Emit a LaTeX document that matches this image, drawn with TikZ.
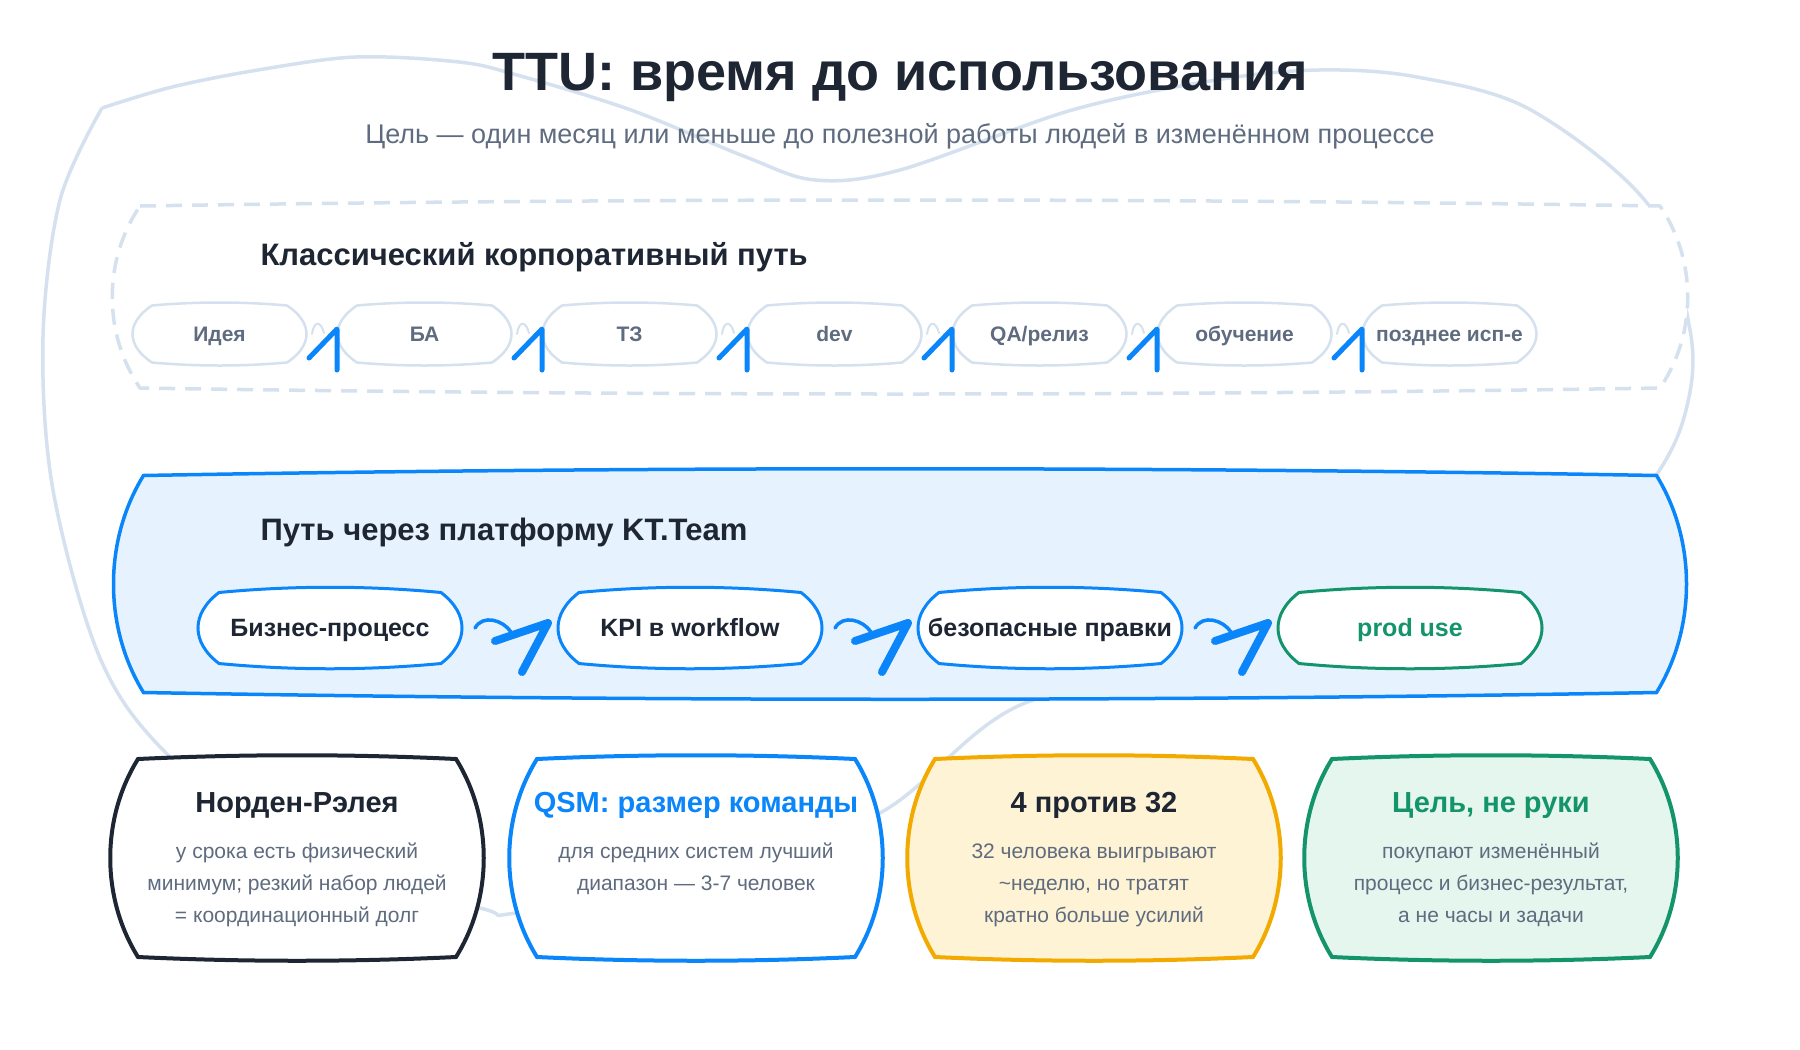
\documentclass[tikz,border=0pt]{standalone}
\usepackage{fontspec}
\setmainfont{Liberation Sans}
\usetikzlibrary{calc}

\definecolor{ink}{HTML}{1E2533}
\definecolor{slate}{HTML}{5F6B7E}
\definecolor{haze}{HTML}{D5E1EE}
\definecolor{ktblue}{HTML}{0A86FA}
\definecolor{ktsky}{HTML}{E6F2FE}
\definecolor{amber}{HTML}{F2A900}
\definecolor{cream}{HTML}{FFF3D6}
\definecolor{leaf}{HTML}{13946A}
\definecolor{mint}{HTML}{E5F6EF}

\pgfdeclarelayer{shapes}
\pgfsetlayers{shapes,main}

% hand-drawn outline round a node: node, side pull, edge pull, style
\newcommand\roughbox[4]{%
  \begin{pgfonlayer}{shapes}
  \draw[#4] (#1.north west)
    .. controls ($(#1.north west)!.33!(#1.north east)+(0,-#3)$) and ($(#1.north west)!.67!(#1.north east)+(0,-#3)$) .. (#1.north east)
    .. controls ($(#1.north east)!.3!(#1.south east)+(#2,0)$) and ($(#1.north east)!.7!(#1.south east)+(#2,0)$) .. (#1.south east)
    .. controls ($(#1.south east)!.33!(#1.south west)+(0,#3)$) and ($(#1.south east)!.67!(#1.south west)+(0,#3)$) .. (#1.south west)
    .. controls ($(#1.south west)!.3!(#1.north west)+(-#2,0)$) and ($(#1.south west)!.7!(#1.north west)+(-#2,0)$) .. cycle;
  \end{pgfonlayer}}

\begin{document}
\begin{tikzpicture}[x=1pt, y=-1pt, line cap=round, line join=round,
    frame/.style={inner sep=0pt, outer sep=0pt},
    sectitle/.style={anchor=base west, text=ink, font=\fontsize{31}{36}\selectfont\bfseries},
    stage/.style={frame, inner xsep=-12pt, minimum width=135pt, minimum height=57pt, text height=18pt, text depth=4pt,
      text=slate, font=\fontsize{21}{25}\selectfont\bfseries},
    ktstage/.style={frame, inner xsep=-20pt, minimum width=222pt, minimum height=71pt, text height=22pt, text depth=5pt,
      text=ink, font=\fontsize{25}{30}\selectfont\bfseries},
    card/.style={frame, minimum width=318pt, minimum height=198pt},
    cardtitle/.style={anchor=base, text=ink, font=\fontsize{29}{34}\selectfont\bfseries},
    cardbody/.style={frame, anchor=north, align=center, text=slate, font=\fontsize{21}{32}\selectfont},
    squig/.style={haze, line width=2pt},
    tipline/.style={ktblue, line width=5pt},
    ktsquig/.style={ktblue, line width=3.5pt},
    kthead/.style={ktblue, line width=8pt}]

    \useasboundingbox (0,0) rectangle (1800,1050);

    % Background loop
    \begin{pgfonlayer}{shapes}
    \draw[haze, line width=3.5pt] plot[smooth, tension=0.55] coordinates {(102,108) (172,87) (258,70)
      (356,57) (459,62) (517,75) (631,110) (746,157) (815,180) (900,170) (1072,110) (1216,80) (1319,70)
      (1417,77) (1531,110) (1650,207) (1690,330) (1687,406) (1655,477) (1560,590) (1250,665) (1025,703)
      (880,813) (700,880) (516,913) (480,908) (300,860) (167,754) (100,658) (53,490) (43,337) (60,200)
      (102,108)};
    \end{pgfonlayer}

    % Heading
    \node[anchor=base, text=ink, font=\fontsize{54}{64}\selectfont\bfseries] (title) at (900,90)
      {TTU: время до использования};
    \node[anchor=base, text=slate, font=\fontsize{27}{32}\selectfont] (subtitle) at (900,143)
      {Цель — один месяц или меньше до полезной работы людей в изменённом процессе};

    % Classic path
    \node[frame, minimum width=1520pt, minimum height=182pt] (classicbox) at (900,297) {};
    \roughbox{classicbox}{37}{8}{haze, line width=3.5pt, dash pattern=on 16pt off 10pt, fill=white}
    \node[sectitle] (classictitle) at (257,265) {Классический корпоративный путь};

    \node[stage] (idea) at (219.5,334) {Идея};
    \node[stage] (ba) at (424.5,334) {БА};
    \node[stage] (tz) at (629.5,334) {ТЗ};
    \node[stage] (dev) at (834.5,334) {dev};
    \node[stage] (qa) at (1039.5,334) {QA/релиз};
    \node[stage] (edu) at (1244.5,334) {обучение};
    \node[stage] (late) at (1449.5,334) {позднее исп-е};
    \roughbox{idea}{26}{4}{haze, line width=2.5pt, fill=white}
    \roughbox{ba}{26}{4}{haze, line width=2.5pt, fill=white}
    \roughbox{tz}{26}{4}{haze, line width=2.5pt, fill=white}
    \roughbox{dev}{26}{4}{haze, line width=2.5pt, fill=white}
    \roughbox{qa}{26}{4}{haze, line width=2.5pt, fill=white}
    \roughbox{edu}{26}{4}{haze, line width=2.5pt, fill=white}
    \roughbox{late}{26}{4}{haze, line width=2.5pt, fill=white}

    \draw[squig] ($(idea.east)+(25,0)$) .. controls +(2,-14) and +(-3,-12) .. ($(ba.west)+(-33,-1)$);
    \draw[tipline] ($(ba.west)+(-48,24)$) -- ($(ba.west)+(-20,-5)$) -- ($(ba.west)+(-20,36)$);
    \draw[squig] ($(ba.east)+(25,0)$) .. controls +(2,-14) and +(-3,-12) .. ($(tz.west)+(-33,-1)$);
    \draw[tipline] ($(tz.west)+(-48,24)$) -- ($(tz.west)+(-20,-5)$) -- ($(tz.west)+(-20,36)$);
    \draw[squig] ($(tz.east)+(25,0)$) .. controls +(2,-14) and +(-3,-12) .. ($(dev.west)+(-33,-1)$);
    \draw[tipline] ($(dev.west)+(-48,24)$) -- ($(dev.west)+(-20,-5)$) -- ($(dev.west)+(-20,36)$);
    \draw[squig] ($(dev.east)+(25,0)$) .. controls +(2,-14) and +(-3,-12) .. ($(qa.west)+(-33,-1)$);
    \draw[tipline] ($(qa.west)+(-48,24)$) -- ($(qa.west)+(-20,-5)$) -- ($(qa.west)+(-20,36)$);
    \draw[squig] ($(qa.east)+(25,0)$) .. controls +(2,-14) and +(-3,-12) .. ($(edu.west)+(-33,-1)$);
    \draw[tipline] ($(edu.west)+(-48,24)$) -- ($(edu.west)+(-20,-5)$) -- ($(edu.west)+(-20,36)$);
    \draw[squig] ($(edu.east)+(25,0)$) .. controls +(2,-14) and +(-3,-12) .. ($(late.west)+(-33,-1)$);
    \draw[tipline] ($(late.west)+(-48,24)$) -- ($(late.west)+(-20,-5)$) -- ($(late.west)+(-20,36)$);

    % Platform path
    \node[frame, minimum width=1513pt, minimum height=217pt] (ktbox) at (900,584) {};
    \roughbox{ktbox}{40}{9}{ktblue, line width=3.5pt, fill=ktsky}
    \node[sectitle] (kttitle) at (257,540) {Путь через платформу KT.Team};

    \node[ktstage] (bp) at (330,628) {Бизнес-процесс};
    \node[ktstage] (kpi) at (690,628) {KPI в workflow};
    \node[ktstage] (safe) at (1050,628) {безопасные правки};
    \node[ktstage, text=leaf] (prod) at (1410,628) {prod use};
    \roughbox{bp}{28}{7}{ktblue, line width=3pt, fill=white}
    \roughbox{kpi}{28}{7}{ktblue, line width=3pt, fill=white}
    \roughbox{safe}{28}{7}{ktblue, line width=3pt, fill=white}
    \roughbox{prod}{28}{7}{leaf, line width=3pt, fill=white}

    \draw[ktsquig] ($(bp.east)+(34,0)$) .. controls +(8,-14) and +(-8,-12) .. ($(kpi.west)+(-68,4)$);
    \draw[kthead] ($(kpi.west)+(-84,13)$) -- ($(kpi.west)+(-31,-5)$) -- ($(kpi.west)+(-57,44)$);
    \draw[ktsquig] ($(kpi.east)+(34,0)$) .. controls +(8,-14) and +(-8,-12) .. ($(safe.west)+(-68,4)$);
    \draw[kthead] ($(safe.west)+(-84,13)$) -- ($(safe.west)+(-31,-5)$) -- ($(safe.west)+(-57,44)$);
    \draw[ktsquig] ($(safe.east)+(34,0)$) .. controls +(8,-14) and +(-8,-12) .. ($(prod.west)+(-68,4)$);
    \draw[kthead] ($(prod.west)+(-84,13)$) -- ($(prod.west)+(-31,-5)$) -- ($(prod.west)+(-57,44)$);

    % Cards
    \node[card] (nr) at (297,858) {};
    \node[card] (qsm) at (696,858) {};
    \node[card] (vs) at (1094,858) {};
    \node[card] (goal) at (1491,858) {};
    \roughbox{nr}{37}{5}{ink, line width=4pt, fill=white}
    \roughbox{qsm}{37}{5}{ktblue, line width=4pt, fill=white}
    \roughbox{vs}{37}{5}{amber, line width=4pt, fill=cream}
    \roughbox{goal}{37}{5}{leaf, line width=4pt, fill=mint}

    \node[cardtitle] (nrtitle) at (297,812) {Норден-Рэлея};
    \node[cardbody] (nrtext) at (297,840) {\rule{0pt}{18pt}у срока есть физический\\минимум; резкий набор людей\\= координационный долг};
    \node[cardtitle, text=ktblue] (qsmtitle) at (696,812) {QSM: размер команды};
    \node[cardbody] (qsmtext) at (696,840) {\rule{0pt}{18pt}для средних систем лучший\\диапазон — 3-7 человек};
    \node[cardtitle] (vstitle) at (1094,812) {4 против 32};
    \node[cardbody] (vstext) at (1094,840) {\rule{0pt}{18pt}32 человека выигрывают\\\textasciitilde неделю, но тратят\\кратно больше усилий};
    \node[cardtitle, text=leaf] (goaltitle) at (1491,812) {Цель, не руки};
    \node[cardbody] (goaltext) at (1491,840) {\rule{0pt}{18pt}покупают изменённый\\процесс и бизнес-результат,\\а не часы и задачи};

\end{tikzpicture}
\end{document}
